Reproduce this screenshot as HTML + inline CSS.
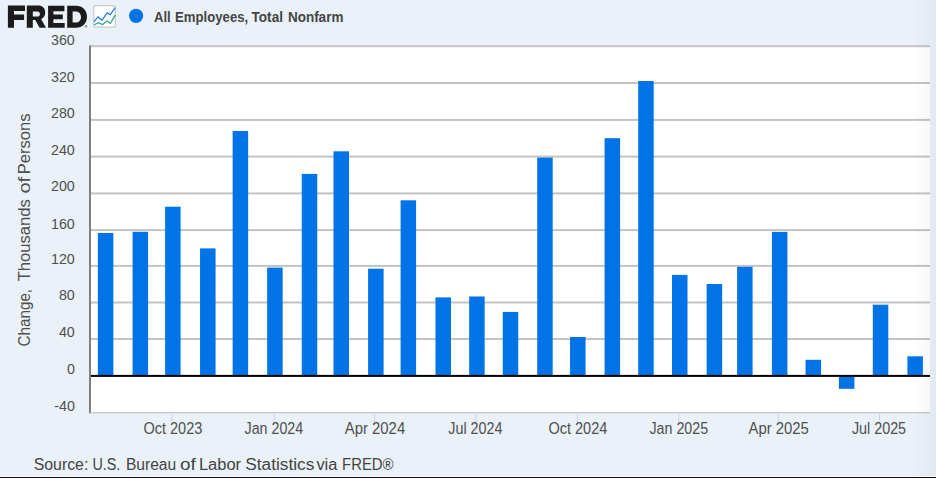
<!DOCTYPE html>
<html><head><meta charset="utf-8"><style>
html,body{margin:0;padding:0;}
body{width:936px;height:478px;position:relative;overflow:hidden;background:#eaf1f9;}
.bl{position:absolute;left:0;top:476px;width:936px;height:1px;background:#f7fbff}
.bk{position:absolute;left:0;top:477px;width:936px;height:1px;background:#111}
.re{position:absolute;left:912px;top:0;width:24px;height:476px;background:linear-gradient(to right,rgba(20,40,70,0),rgba(20,40,70,0.045))}
</style></head><body>
<svg width="936" height="478" viewBox="0 0 936 478" style="position:absolute;left:0;top:0">
<rect x="90" y="46" width="840" height="367" fill="#fff"/>
<rect x="90" y="45.20" width="840" height="2" fill="#c3c3c3"/><rect x="90" y="82.00" width="840" height="2" fill="#c3c3c3"/><rect x="90" y="118.90" width="840" height="2" fill="#c3c3c3"/><rect x="90" y="155.60" width="840" height="2" fill="#c3c3c3"/><rect x="90" y="192.40" width="840" height="2" fill="#c3c3c3"/><rect x="90" y="229.10" width="840" height="2" fill="#c3c3c3"/><rect x="90" y="264.90" width="840" height="2" fill="#c3c3c3"/><rect x="90" y="301.50" width="840" height="2" fill="#c3c3c3"/><rect x="90" y="338.00" width="840" height="2" fill="#c3c3c3"/><rect x="97.85" y="233.00" width="15.5" height="142.90" fill="#0073e6"/><rect x="132.60" y="231.80" width="15.5" height="144.10" fill="#0073e6"/><rect x="165.10" y="206.70" width="15.5" height="169.20" fill="#0073e6"/><rect x="200.05" y="248.40" width="15.5" height="127.50" fill="#0073e6"/><rect x="232.65" y="131.00" width="15.5" height="244.90" fill="#0073e6"/><rect x="267.15" y="267.60" width="15.5" height="108.30" fill="#0073e6"/><rect x="301.75" y="173.90" width="15.5" height="202.00" fill="#0073e6"/><rect x="333.50" y="151.30" width="15.5" height="224.60" fill="#0073e6"/><rect x="368.10" y="268.70" width="15.5" height="107.20" fill="#0073e6"/><rect x="400.60" y="200.30" width="15.5" height="175.60" fill="#0073e6"/><rect x="435.50" y="297.40" width="15.5" height="78.50" fill="#0073e6"/><rect x="469.15" y="296.50" width="15.5" height="79.40" fill="#0073e6"/><rect x="502.75" y="311.90" width="15.5" height="64.00" fill="#0073e6"/><rect x="537.20" y="157.60" width="15.5" height="218.30" fill="#0073e6"/><rect x="570.05" y="337.00" width="15.5" height="38.90" fill="#0073e6"/><rect x="604.60" y="138.20" width="15.5" height="237.70" fill="#0073e6"/><rect x="638.20" y="81.00" width="15.5" height="294.90" fill="#0073e6"/><rect x="672.00" y="274.90" width="15.5" height="101.00" fill="#0073e6"/><rect x="706.65" y="284.00" width="15.5" height="91.90" fill="#0073e6"/><rect x="737.10" y="266.80" width="15.5" height="109.10" fill="#0073e6"/><rect x="771.90" y="231.90" width="15.5" height="144.00" fill="#0073e6"/><rect x="805.55" y="359.80" width="15.5" height="16.10" fill="#0073e6"/><rect x="838.90" y="375.90" width="15.5" height="12.90" fill="#0073e6"/><rect x="872.80" y="304.70" width="15.5" height="71.20" fill="#0073e6"/><rect x="907.40" y="356.30" width="15.5" height="19.60" fill="#0073e6"/><rect x="90" y="374.90" width="840" height="2" fill="#000"/>
<rect x="89" y="45.4" width="2" height="368" fill="#808080"/>
<rect x="90" y="412" width="840" height="1.3" fill="#c1c6ce"/>
<rect x="171.30" y="413" width="1" height="9" fill="#ccd6eb"/><rect x="273.70" y="413" width="1" height="9" fill="#ccd6eb"/><rect x="373.95" y="413" width="1" height="9" fill="#ccd6eb"/><rect x="475.40" y="413" width="1" height="9" fill="#ccd6eb"/><rect x="577.00" y="413" width="1" height="9" fill="#ccd6eb"/><rect x="678.30" y="413" width="1" height="9" fill="#ccd6eb"/><rect x="777.80" y="413" width="1" height="9" fill="#ccd6eb"/><rect x="879.00" y="413" width="1" height="9" fill="#ccd6eb"/>
<g font-family="Liberation Sans, sans-serif" font-size="16" fill="#4f4f4f"><text x="74.8" y="44.80" font-size="15.5" text-anchor="end" textLength="23.76" lengthAdjust="spacingAndGlyphs">360</text><text x="74.8" y="81.95" font-size="15.5" text-anchor="end" textLength="23.76" lengthAdjust="spacingAndGlyphs">320</text><text x="74.8" y="118.20" font-size="15.5" text-anchor="end" textLength="23.76" lengthAdjust="spacingAndGlyphs">280</text><text x="74.8" y="155.00" font-size="15.5" text-anchor="end" textLength="23.76" lengthAdjust="spacingAndGlyphs">240</text><text x="74.8" y="191.10" font-size="15.5" text-anchor="end" textLength="23.76" lengthAdjust="spacingAndGlyphs">200</text><text x="74.8" y="228.60" font-size="15.5" text-anchor="end" textLength="23.76" lengthAdjust="spacingAndGlyphs">160</text><text x="74.8" y="263.75" font-size="15.5" text-anchor="end" textLength="23.76" lengthAdjust="spacingAndGlyphs">120</text><text x="74.8" y="299.60" font-size="15.5" text-anchor="end" textLength="15.84" lengthAdjust="spacingAndGlyphs">80</text><text x="74.8" y="337.30" font-size="15.5" text-anchor="end" textLength="15.84" lengthAdjust="spacingAndGlyphs">40</text><text x="74.8" y="373.80" font-size="15.5" text-anchor="end" textLength="7.92" lengthAdjust="spacingAndGlyphs">0</text><text x="74.8" y="410.70" font-size="15.5" text-anchor="end" textLength="20.58" lengthAdjust="spacingAndGlyphs">-40</text><text x="172.90" y="434" text-anchor="middle" textLength="58.9" lengthAdjust="spacingAndGlyphs">Oct 2023</text><text x="273.90" y="434" text-anchor="middle" textLength="58.7" lengthAdjust="spacingAndGlyphs">Jan 2024</text><text x="375.00" y="434" text-anchor="middle" textLength="60.3" lengthAdjust="spacingAndGlyphs">Apr 2024</text><text x="475.40" y="434" text-anchor="middle" textLength="54.2" lengthAdjust="spacingAndGlyphs">Jul 2024</text><text x="577.90" y="434" text-anchor="middle" textLength="58.9" lengthAdjust="spacingAndGlyphs">Oct 2024</text><text x="678.80" y="434" text-anchor="middle" textLength="58.7" lengthAdjust="spacingAndGlyphs">Jan 2025</text><text x="778.70" y="434" text-anchor="middle" textLength="60.3" lengthAdjust="spacingAndGlyphs">Apr 2025</text><text x="879.00" y="434" text-anchor="middle" textLength="54.2" lengthAdjust="spacingAndGlyphs">Jul 2025</text></g>
<g font-family="Liberation Sans, sans-serif" font-size="16" fill="#4f4f4f">
<text transform="translate(30.4,346.5) rotate(-90)" textLength="57.6" lengthAdjust="spacingAndGlyphs">Change,</text>
<text transform="translate(30.4,281.3) rotate(-90)" textLength="82.2" lengthAdjust="spacingAndGlyphs">Thousands</text>
<text transform="translate(30.4,193.6) rotate(-90)" textLength="16.8" lengthAdjust="spacingAndGlyphs">of</text>
<text transform="translate(30.4,174.2) rotate(-90)" textLength="60.6" lengthAdjust="spacingAndGlyphs">Persons</text>
</g>
<g fill="#1b1a1c" fill-rule="evenodd">
<path d="M7.9,5.6 H25 V10.9 H14 V14.5 H24.1 V19.9 H14 V27.8 H7.9 Z"/>
<path d="M26.8,5.6 H38 C42.5,5.6 45.2,8.3 45.2,12.5 C45.2,15.6 43.7,17.9 41.1,19 L46,27.8 H39.6 L35.3,20.1 H32.8 V27.8 H26.8 Z M32.8,11.4 V16.6 H37.5 C39,16.6 39.9,15.6 39.9,14 C39.9,12.4 39,11.4 37.5,11.4 Z"/>
<path d="M48.1,5.7 H64.4 V11.3 H53.4 V14.5 H62.8 V19.2 H53.4 V22.9 H64.7 V27.8 H48.1 Z"/>
<path d="M67.2,5.7 H76 C82.5,5.7 87,10.3 87,16.75 C87,23.2 82.5,27.8 76,27.8 H67.2 Z M72.6,11.4 V22.6 H75.6 C79,22.6 81,20.2 81,17 C81,13.8 79,11.4 75.6,11.4 Z"/>
</g>
<circle cx="86.1" cy="26.2" r="1.3" fill="#999"/>
<g transform="translate(93.8,5.7)">
<rect x="0" y="0" width="21.5" height="21.5" rx="2" fill="#fff" stroke="#c9c9c9" stroke-width="1.2"/>
<polyline points="0.2,15.9 4.2,11.2 8.2,14.6 13.3,7.2 16.3,8.9 21.6,1.9" fill="none" stroke="#2a7de9" stroke-width="1.35"/>
<polyline points="0.2,19.3 4.9,16.9 8.6,18.9 13.3,15.3 16.6,17.6 21.6,9.2" fill="none" stroke="#3fa891" stroke-width="1.35"/>
</g>
<circle cx="136.1" cy="15.85" r="7.15" fill="#0073e6"/>
<g font-family="Liberation Sans, sans-serif" font-weight="bold" font-size="15.5" fill="#454545"><text x="153.90" y="21.8" textLength="16.80" lengthAdjust="spacingAndGlyphs">All</text><text x="175.00" y="21.8" textLength="73.20" lengthAdjust="spacingAndGlyphs">Employees,</text><text x="251.50" y="21.8" textLength="31.50" lengthAdjust="spacingAndGlyphs">Total</text><text x="287.90" y="21.8" textLength="55.50" lengthAdjust="spacingAndGlyphs">Nonfarm</text></g>
<g font-family="Liberation Sans, sans-serif" font-size="16" fill="#444"><text x="33.70" y="469.8" textLength="54.60" lengthAdjust="spacingAndGlyphs">Source:</text><text x="92.40" y="469.8" textLength="27.90" lengthAdjust="spacingAndGlyphs">U.S.</text><text x="125.90" y="469.8" textLength="50.30" lengthAdjust="spacingAndGlyphs">Bureau</text><text x="180.10" y="469.8" textLength="15.70" lengthAdjust="spacingAndGlyphs">of</text><text x="198.90" y="469.8" textLength="42.20" lengthAdjust="spacingAndGlyphs">Labor</text><text x="245.30" y="469.8" textLength="69.00" lengthAdjust="spacingAndGlyphs">Statistics</text><text x="316.40" y="469.8" textLength="21.00" lengthAdjust="spacingAndGlyphs">via</text><text x="342.10" y="469.8" textLength="51.40" lengthAdjust="spacingAndGlyphs">FRED®</text></g>
</svg>
<div class="re"></div>
<div class="bl"></div><div class="bk"></div>
</body></html>
